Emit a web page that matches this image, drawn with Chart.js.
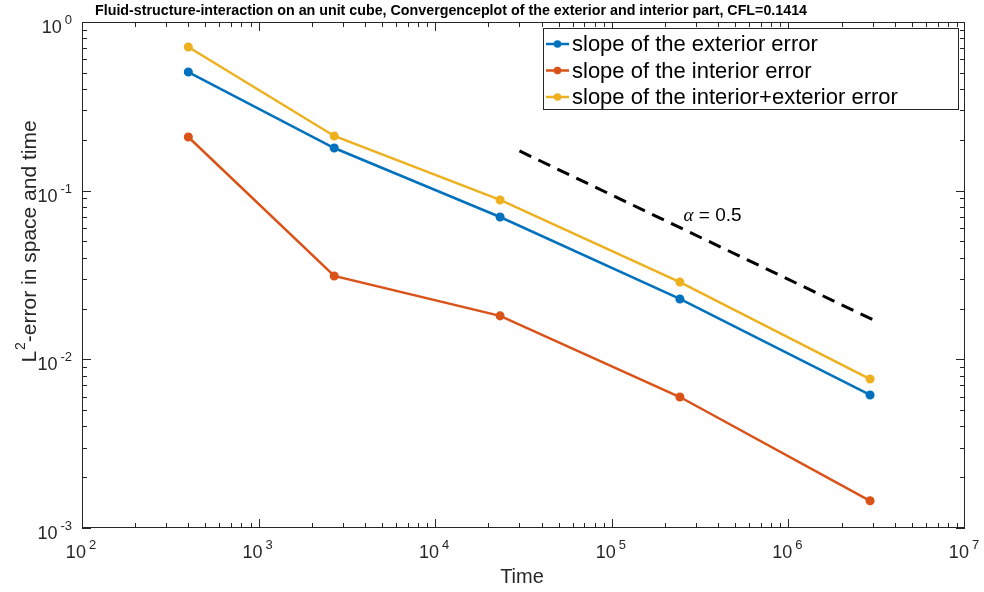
<!DOCTYPE html>
<html>
<head>
<meta charset="utf-8">
<script src="https://cdn.jsdelivr.net/npm/chart.js@4.4.1/dist/chart.umd.min.js"></script>
<style>
  html, body { margin: 0; padding: 0; background: #fff; }
  #wrap { width: 984px; height: 592px; }
</style>
</head>
<body>
<div id="wrap"><canvas id="convChart" width="984" height="592"></canvas></div>
<script>
// time steps (x) and errors (y) per run
const timeValues = [400, 2680, 23300, 243000, 2900000];
const exteriorError = [0.505, 0.179, 0.0698, 0.0228, 0.00615];
const interiorError = [0.208, 0.0312, 0.0181, 0.00598, 0.00145];
const totalError = [0.711, 0.211, 0.0881, 0.0287, 0.00764];

// reference slope line, alpha = 0.5
const refX = [30000, 3000000];
const refY = [0.172, 0.0172];

const xTickExponents = [2, 3, 4, 5, 6, 7];
const yTickExponents = [0, -1, -2, -3];

const seriesNames = [
    'slope of the exterior error',
    'slope of the interior error',
    'slope of the interior+exterior error'
];
const seriesColors = ['#0072BD', '#D95319', '#EDB120'];

const AXIS_COLOR = '#262626';
const SANS = '"Liberation Sans", Arial, Helvetica, sans-serif';
const TITLE = 'Fluid-structure-interaction on an unit cube, Convergenceplot of the exterior and interior part, CFL=0.1414';

function toPoints(xs, ys) {
    return xs.map((x, i) => ({ x: x, y: ys[i] }));
}

const seriesData = [exteriorError, interiorError, totalError];

const datasets = seriesData.map((values, i) => ({
    label: seriesNames[i],
    data: toPoints(timeValues, values),
    borderColor: seriesColors[i],
    backgroundColor: seriesColors[i],
    borderWidth: 2.5,
    pointRadius: 3.8,
    pointBorderWidth: 1.5,
    pointBackgroundColor: seriesColors[i],
    tension: 0
}));

datasets.push({
    label: 'reference',
    data: toPoints(refX, refY),
    borderColor: '#000',
    borderWidth: 3,
    borderDash: [13, 8],
    pointRadius: 0,
    tension: 0
});

// draws a "10^n" label with a raised exponent
function drawPowerLabel(ctx, exp, x, y, align) {
    const baseFont = '18px ' + SANS;
    const expFont = '13px ' + SANS;
    ctx.font = baseFont;
    const wBase = ctx.measureText('10').width;
    ctx.font = expFont;
    const expText = String(exp);
    const wExp = ctx.measureText(expText).width;
    const gap = 3;
    const total = wBase + gap + wExp;
    let left = x;
    if (align === 'center') left = x - total / 2;
    if (align === 'right') left = x - total;
    ctx.textAlign = 'left';
    ctx.textBaseline = 'alphabetic';
    ctx.font = baseFont;
    ctx.fillText('10', left, y);
    ctx.font = expFont;
    ctx.fillText(expText, left + wBase + gap, y - 9);
}

const axesPlugin = {
    id: 'matlabAxes',
    afterDatasetsDraw(chart) {
        const ctx = chart.ctx;
        const area = chart.chartArea;
        const xs = chart.scales.x;
        const ys = chart.scales.y;
        ctx.save();
        ctx.strokeStyle = AXIS_COLOR;
        ctx.fillStyle = AXIS_COLOR;
        ctx.lineWidth = 1;

        // box
        ctx.strokeRect(area.left + 0.5, area.top + 0.5, area.right - area.left - 1, area.bottom - area.top - 1);

        ctx.beginPath();
        // x ticks, inward on bottom and top
        for (let e = xTickExponents[0]; e < xTickExponents[xTickExponents.length - 1]; e++) {
            for (let m = 1; m <= 9; m++) {
                const px = Math.round(xs.getPixelForValue(m * Math.pow(10, e))) + 0.5;
                const len = m === 1 ? 9 : 5;
                ctx.moveTo(px, area.bottom);
                ctx.lineTo(px, area.bottom - len);
                ctx.moveTo(px, area.top);
                ctx.lineTo(px, area.top + len);
            }
        }
        // y ticks, inward on left and right
        for (let e = yTickExponents[yTickExponents.length - 1]; e < yTickExponents[0]; e++) {
            for (let m = 1; m <= 9; m++) {
                const py = Math.round(ys.getPixelForValue(m * Math.pow(10, e))) + 0.5;
                const len = m === 1 ? 9 : 5;
                ctx.moveTo(area.left, py);
                ctx.lineTo(area.left + len, py);
                ctx.moveTo(area.right, py);
                ctx.lineTo(area.right - len, py);
            }
        }
        ctx.stroke();

        // tick labels
        xTickExponents.forEach(e => {
            drawPowerLabel(ctx, e, xs.getPixelForValue(Math.pow(10, e)) - 1, area.bottom + 30, 'center');
        });
        yTickExponents.forEach(e => {
            drawPowerLabel(ctx, e, area.left - 10, ys.getPixelForValue(Math.pow(10, e)) + 11, 'right');
        });

        // axis titles
        ctx.font = '20px ' + SANS;
        ctx.textAlign = 'center';
        ctx.textBaseline = 'middle';
        ctx.fillText('Time', 522, 577);

        ctx.save();
        ctx.translate(30, 242);
        ctx.rotate(-Math.PI / 2);
        const labFont = '21px ' + SANS;
        const supFont = '14px ' + SANS;
        ctx.font = labFont;
        const wL = ctx.measureText('L').width;
        ctx.font = supFont;
        const w2 = ctx.measureText('2').width;
        ctx.font = labFont;
        const rest = '-error in space and time';
        const wRest = ctx.measureText(rest).width;
        const start = -(wL + w2 + wRest) / 2;
        ctx.textAlign = 'left';
        ctx.textBaseline = 'middle';
        ctx.fillText('L', start, 0);
        ctx.font = supFont;
        ctx.fillText('2', start + wL + 1, -9);
        ctx.font = labFont;
        ctx.fillText(rest, start + wL + w2 + 1, 0);
        ctx.restore();

        // chart title, squeezed to its measured width
        ctx.save();
        ctx.font = 'bold 15px ' + SANS;
        const tw = ctx.measureText(TITLE).width;
        ctx.translate(451, 11);
        ctx.scale(712 / tw, 1);
        ctx.textAlign = 'center';
        ctx.textBaseline = 'middle';
        ctx.fillStyle = '#000';
        ctx.fillText(TITLE, 0, 0);
        ctx.restore();

        // slope annotation
        const ax = xs.getPixelForValue(255000);
        const ay = ys.getPixelForValue(0.071);
        ctx.textAlign = 'left';
        ctx.textBaseline = 'middle';
        ctx.font = 'italic 19px "Liberation Serif", "DejaVu Serif", serif';
        ctx.fillStyle = '#000';
        ctx.fillText('\u03b1', ax, ay);
        const wa = ctx.measureText('\u03b1').width;
        ctx.font = '19px ' + SANS;
        ctx.fillText(' = 0.5', ax + wa, ay);

        // legend
        const lx = 543, ly = 28, lw = 415, lh = 81;
        ctx.fillStyle = '#fff';
        ctx.fillRect(lx, ly, lw, lh);
        ctx.strokeStyle = '#262626';
        ctx.lineWidth = 1;
        ctx.strokeRect(lx + 0.5, ly + 0.5, lw, lh);
        seriesNames.forEach((name, i) => {
            const cy = 44 + i * 26.5;
            ctx.strokeStyle = seriesColors[i];
            ctx.fillStyle = seriesColors[i];
            ctx.lineWidth = 2.5;
            ctx.beginPath();
            ctx.moveTo(546, cy);
            ctx.lineTo(569, cy);
            ctx.stroke();
            ctx.beginPath();
            ctx.arc(557.5, cy, 3.8, 0, Math.PI * 2);
            ctx.fill();
            ctx.fillStyle = '#000';
            ctx.font = '22px ' + SANS;
            ctx.textAlign = 'left';
            ctx.textBaseline = 'middle';
            ctx.fillText(name, 572, cy + 1);
        });
        ctx.restore();
    }
};

new Chart(document.getElementById('convChart'), {
    type: 'line',
    data: { datasets: datasets },
    options: {
        responsive: false,
        animation: false,
        layout: { padding: { left: 82, right: 19, top: 22, bottom: 64 } },
        plugins: {
            legend: { display: false },
            title: { display: false },
            tooltip: { enabled: false }
        },
        scales: {
            x: { type: 'logarithmic', min: 100, max: 10000000, display: false },
            y: { type: 'logarithmic', min: 0.001, max: 1, display: false }
        }
    },
    plugins: [axesPlugin]
});
</script>
</body>
</html>
